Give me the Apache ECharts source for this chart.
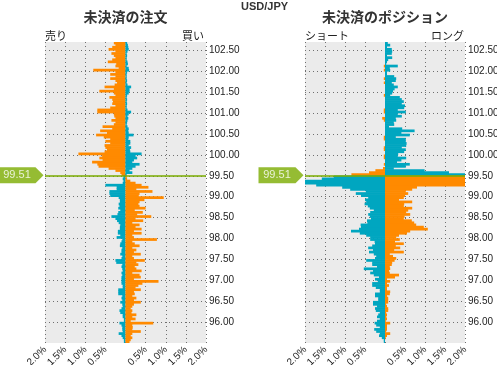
<!DOCTYPE html>
<html><head><meta charset="utf-8">
<script src="https://cdn.jsdelivr.net/npm/echarts@6/dist/echarts.min.js"></script>
<style>html,body{margin:0;padding:0;background:#fff}#c{width:497px;height:365px}</style>
</head><body><div id="c"></div>
<script>
// price bands (lower edge, 0.05 wide), listed top to bottom
const priceLevels = [
102.65,102.60,102.55,102.50,102.45,102.40,102.35,102.30,102.25,102.20,
102.15,102.10,102.05,102.00,101.95,101.90,101.85,101.80,101.75,101.70,
101.65,101.60,101.55,101.50,101.45,101.40,101.35,101.30,101.25,101.20,
101.15,101.10,101.05,101.00,100.95,100.90,100.85,100.80,100.75,100.70,
100.65,100.60,100.55,100.50,100.45,100.40,100.35,100.30,100.25,100.20,
100.15,100.10,100.05,100.00,99.95,99.90,99.85,99.80,99.75,99.70,
99.65,99.60,99.55,99.50,99.45,99.40,99.35,99.30,99.25,99.20,
99.15,99.10,99.05,99.00,98.95,98.90,98.85,98.80,98.75,98.70,
98.65,98.60,98.55,98.50,98.45,98.40,98.35,98.30,98.25,98.20,
98.15,98.10,98.05,98.00,97.95,97.90,97.85,97.80,97.75,97.70,
97.65,97.60,97.55,97.50,97.45,97.40,97.35,97.30,97.25,97.20,
97.15,97.10,97.05,97.00,96.95,96.90,96.85,96.80,96.75,96.70,
96.65,96.60,96.55,96.50,96.45,96.40,96.35,96.30,96.25,96.20,
96.15,96.10,96.05,96.00,95.95,95.90,95.85,95.80,95.75,95.70,
95.65,95.60,95.55,95.50];
const currentPrice = 99.51;
const splitLevel = 99.50;
const xTicks = [-2, -1.5, -1, -0.5, 0, 0.5, 1, 1.5, 2];

// 未決済の注文 (%): left = 売り, right = 買い
const orderSell = [
0.29,0.25,0.33,0.42,0.25,0.35,0.29,0.25,0.33,0.44,
0.23,0.25,0.17,0.80,0.25,0.38,0.25,0.38,0.25,0.21,
0.27,0.52,0.29,0.65,0.29,0.25,0.40,0.33,0.31,0.33,
0.25,0.38,0.70,0.70,0.29,0.28,0.25,0.35,0.25,0.29,
0.57,0.33,0.63,0.46,0.73,0.54,0.38,0.50,0.38,0.52,
0.50,0.46,0.52,1.17,0.58,0.65,0.57,0.83,0.70,0.67,
0.42,0.25,0.13,0.10,
0.05,0.07,0.05,0.07,0.50,0.22,0.22,0.40,0.40,0.38,
0.17,0.14,0.14,0.17,0.15,0.18,0.13,0.18,0.20,0.35,
0.25,0.21,0.17,0.13,0.14,0.14,0.19,0.19,0.13,0.22,
0.08,0.10,0.13,0.14,0.08,0.10,0.10,0.13,0.08,0.10,
0.25,0.23,0.08,0.10,0.08,0.07,0.10,0.08,0.10,0.10,
0.10,0.10,0.07,0.07,0.18,0.18,0.18,0.08,0.10,0.08,
0.13,0.08,0.07,0.10,0.15,0.13,0.07,0.07,0.04,0.04,
0.15,0.10,0.08,0.08,0.07,0.17,0.10,0.07,0.04,0.04];
const orderBuy = [
0.04,0.06,0.07,0.08,0.05,0.03,0.04,0.03,0.03,0.05,
0.06,0.03,0.08,0.09,0.04,0.03,0.03,0.03,0.04,0.03,
0.05,0.14,0.10,0.10,0.08,0.04,0.03,0.04,0.03,0.04,
0.03,0.03,0.05,0.14,0.08,0.05,0.07,0.05,0.04,0.03,
0.05,0.08,0.07,0.08,0.20,0.08,0.07,0.12,0.12,0.08,
0.14,0.11,0.12,0.40,0.25,0.29,0.21,0.17,0.35,0.25,
0.17,0.10,0.17,0.03,
0.03,0.04,0.12,0.25,0.40,0.57,0.27,0.67,0.35,0.33,
0.95,0.47,0.35,0.32,0.35,0.50,0.23,0.43,0.29,0.64,
0.25,0.44,0.17,0.35,0.25,0.40,0.21,0.40,0.17,0.21,
0.78,0.17,0.23,0.35,0.17,0.27,0.21,0.38,0.17,0.21,
0.48,0.27,0.32,0.23,0.27,0.40,0.17,0.35,0.38,0.21,
0.82,0.42,0.32,0.25,0.38,0.21,0.23,0.17,0.27,0.21,
0.38,0.21,0.17,0.13,0.17,0.15,0.27,0.17,0.25,0.13,
0.69,0.17,0.18,0.17,0.38,0.17,0.13,0.17,0.13,0.10];

// 未決済のポジション (%): left = ショート, right = ロング
const positionShort = [
0,0,0,0,0,0,0,0,0,0,
0,0.03,0,0.03,0,0,0,0.03,0,0.03,
0,0,0,0,0,0.03,0,0,0,0,
0,0,0.03,0.03,0,0,0.07,0.03,0,0,
0,0,0,0,0,0.03,0.03,0,0,0,
0.03,0.03,0,0,0.03,0.03,0,0,0.03,0,
0.05,0.24,0.40,0.84,
1.28,1.58,2.0,2.0,1.72,1.07,0.87,0.48,0.73,0.60,
0.42,0.50,0.47,0.51,0.43,0.38,0.28,0.37,0.42,0.38,
0.35,0.45,0.44,0.61,0.60,0.65,0.85,0.63,0.47,0.37,
0.37,0.26,0.25,0.32,0.42,0.30,0.40,0.28,0.22,0.25,
0.47,0.32,0.32,0.20,0.53,0.30,0.37,0.28,0.15,0.25,
0.18,0.32,0.32,0.23,0.13,0.13,0.25,0.25,0.17,0.17,
0.30,0.30,0.20,0.25,0.23,0.13,0.17,0.20,0.13,0.20,
0.26,0.22,0.13,0.27,0.22,0.13,0.15,0.08,0.03,0.03];
const positionLong = [
0.07,0.13,0.05,0.17,0.18,0.17,0.05,0.18,0.08,0.05,
0.03,0.32,0.12,0.13,0.05,0.05,0.23,0.28,0.27,0.17,
0.22,0.32,0.24,0.20,0.18,0.13,0.37,0.42,0.47,0.42,
0.50,0.48,0.32,0.52,0.32,0.42,0.27,0.28,0.22,0.23,
0.10,0.43,0.74,0.41,0.62,0.27,0.52,0.52,0.54,0.53,
0.42,0.52,0.48,0.33,0.32,0.53,0.41,0.30,0.62,0.52,
0.22,0.99,1.60,2.0,
2.0,2.0,2.0,2.0,2.0,0.80,0.68,0.52,0.58,0.50,
0.47,0.35,0.68,0.48,0.47,0.68,0.58,0.53,0.63,0.49,
0.47,0.67,0.73,0.78,0.97,1.07,0.63,0.55,0.35,0.28,
0.37,0.25,0.47,0.27,0.38,0.23,0.47,0.12,0.20,0.28,
0.24,0.18,0.17,0.12,0.13,0.10,0.12,0.35,0.25,0.05,
0.13,0.05,0.10,0.05,0.05,0.13,0.12,0.05,0.08,0.08,
0.08,0.03,0.05,0.08,0.08,0.03,0.05,0.03,0.05,0.02,
0.13,0.05,0.05,0.05,0.03,0.13,0.05,0.02,0,0];

const ORANGE = '#ff8a00', TEAL = '#00a6c0', GREEN = '#7aab00';
const NUMFONT = '"Liberation Sans", Arial, sans-serif';
const JPFONT = '"Noto Sans CJK JP", sans-serif';
const grids = [
  {left: 45, top: 42, width: 161, height: 301},
  {left: 305, top: 42, width: 160, height: 301}
];

function sideSeries(values, sign, aboveColor, belowColor, g) {
  return {
    type: 'bar', xAxisIndex: g, yAxisIndex: g * 2,
    barWidth: '130%', barGap: '-100%', silent: true,
    data: values.map((v, i) => {
      const c = priceLevels[i] >= splitLevel ? aboveColor : belowColor;
      return {value: sign * v, itemStyle: {color: c}};
    })
  };
}
function priceSeries(g) {
  return {
    type: 'scatter', xAxisIndex: g, yAxisIndex: g * 2 + 1, clip: false, silent: true, z: 10,
    data: [[xTicks[0], currentPrice]],
    symbol: 'path://M0,0 L37,0 L45,8 L37,16 L0,16 Z',
    symbolSize: [45, 16], symbolKeepAspect: false,
    symbolOffset: [-24, 0],
    itemStyle: {color: GREEN},
    label: {show: true, position: 'inside', offset: [-4, 0], color: '#fff',
      fontFamily: NUMFONT, fontSize: 11, formatter: () => currentPrice.toFixed(2)},
    markLine: {
      silent: true, symbol: 'none', animation: false,
      lineStyle: {color: GREEN, width: 1.5, type: 'solid'},
      label: {show: false},
      data: [{yAxis: currentPrice}]
    }
  };
}
const splitStyle = {show: true, lineStyle: {color: '#6f6f6f', type: [1, 3], width: 1}};
const xAxes = [0, 1].map(g => ({
  gridIndex: g, type: 'value', min: xTicks[0], max: xTicks[xTicks.length - 1], interval: 0.5,
  axisLine: {show: false}, axisTick: {show: false},
  splitLine: splitStyle,
  axisLabel: {rotate: 45, margin: 5, fontSize: 10, fontFamily: NUMFONT, color: '#222',
    formatter: v => v === 0 ? '' : Math.abs(v).toFixed(1) + '%'}
}));
const yAxes = [];
[0, 1].forEach(g => {
  yAxes.push({gridIndex: g, type: 'category', data: priceLevels, inverse: true, show: false});
  yAxes.push({gridIndex: g, type: 'value', position: 'right', min: 95.5, max: 102.7, interval: 0.5,
    axisLine: {show: false}, axisTick: {show: false},
    splitLine: Object.assign({showMinLine: false, showMaxLine: false}, splitStyle),
    axisLabel: {margin: 3, fontSize: 10, fontFamily: NUMFONT, color: '#222',
      showMinLabel: false, showMaxLabel: false, formatter: v => v.toFixed(2)}
  });
});

const chart = echarts.init(document.getElementById('c'), null, {renderer: 'canvas'});
chart.setOption({
  animation: false,
  backgroundColor: '#fff',
  grid: grids.map(gr => Object.assign({show: true, backgroundColor: '#ebebeb', borderWidth: 0,
    containLabel: false, outerBoundsMode: 'none'}, gr)),
  xAxis: xAxes,
  yAxis: yAxes,
  graphic: [
    {type: 'text', x: 241, y: 1, style: {text: 'USD/JPY', font: 'bold 11px ' + NUMFONT, fill: '#333'}},
    {type: 'text', x: 125.5, y: 10, style: {text: '未決済の注文', textAlign: 'center', font: 'bold 14px ' + JPFONT, fill: '#333'}},
    {type: 'text', x: 385, y: 10, style: {text: '未決済のポジション', textAlign: 'center', font: 'bold 14px ' + JPFONT, fill: '#333'}},
    {type: 'text', x: 45, y: 30, style: {text: '売り', font: '11px ' + JPFONT, fill: '#222'}},
    {type: 'text', x: 204, y: 30, style: {text: '買い', textAlign: 'right', font: '11px ' + JPFONT, fill: '#222'}},
    {type: 'text', x: 305, y: 30, style: {text: 'ショート', font: '11px ' + JPFONT, fill: '#222'}},
    {type: 'text', x: 464, y: 30, style: {text: 'ロング', textAlign: 'right', font: '11px ' + JPFONT, fill: '#222'}}
  ],
  series: [
    sideSeries(orderSell, -1, ORANGE, TEAL, 0),
    sideSeries(orderBuy, 1, TEAL, ORANGE, 0),
    priceSeries(0),
    sideSeries(positionShort, -1, ORANGE, TEAL, 1),
    sideSeries(positionLong, 1, TEAL, ORANGE, 1),
    priceSeries(1)
  ]
});
</script>
</body></html>
